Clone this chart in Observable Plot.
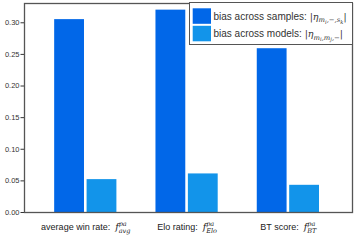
<!DOCTYPE html>
<html>
<head>
<meta charset="utf-8">
<script src="https://cdn.jsdelivr.net/npm/d3@7"></script>
<script src="https://cdn.jsdelivr.net/npm/@observablehq/plot@0.6"></script>
<style>
  body { margin: 0; background: #fff; }
  #wrap { position: relative; width: 358px; height: 247px; }
</style>
</head>
<body>
<div id="wrap"></div>
<script>
const groups = ["average win rate", "Elo rating", "BT score"];
const groupSub = ["avg", "Elo", "BT"];
const seriesNames = ["bias across samples", "bias across models"];
const samplesBias = [0.305, 0.320, 0.259];
const modelsBias = [0.052, 0.061, 0.043];
const colors = ["#0167e8", "#1294ea"];
const yTicks = [0, 0.05, 0.10, 0.15, 0.20, 0.25, 0.30];

const offsets = [-0.16, 0.16];
const halfW = 0.16;
const rows = [];
groups.forEach((g, i) => {
  [samplesBias, modelsBias].forEach((vals, s) => {
    rows.push({group: g, gi: i, series: seriesNames[s], value: vals[i], x1: i + offsets[s] - halfW, x2: i + offsets[s] + halfW});
  });
});

const chart = Plot.plot({
  width: 358,
  height: 247,
  marginLeft: 24,
  marginRight: 6,
  marginTop: 3,
  marginBottom: 35,
  style: {fontFamily: "Liberation Sans, Arial, sans-serif", fontSize: "7.5px", color: "#333", background: "#fff"},
  x: {domain: [-0.605, 2.633], ticks: [0, 1, 2], tickSize: 0, tickPadding: 11, tickFormat: i => groups[i] + ":", label: null},
  y: {domain: [0, 0.3305], ticks: yTicks, tickFormat: d3.format(".2f"), tickSize: 3.5, tickPadding: 1.5, label: null},
  color: {domain: seriesNames, range: colors},
  marks: [
    Plot.rectY(rows, {x1: "x1", x2: "x2", y1: 0, y2: "value", fill: "series", insetLeft: 1.3, insetRight: 1.3}),
    Plot.frame({stroke: "#555", strokeWidth: 1.3})
  ]
});
chart.style.overflow = "visible";
document.getElementById("wrap").appendChild(chart);

const ns = "http://www.w3.org/2000/svg";
function tspan(parent, text, attrs) {
  const t = document.createElementNS(ns, "tspan");
  t.textContent = text;
  for (const k in attrs) t.setAttribute(k, attrs[k]);
  parent.appendChild(t);
  return t;
}
const serif = {"font-family": "DejaVu Serif, serif", "font-style": "italic"};

// Math notation in x tick labels
const xTickTexts = chart.querySelectorAll('[aria-label="x-axis tick label"] text');
xTickTexts.forEach((t, i) => {
  t.textContent = "";
  t.setAttribute("font-size", "9");
  t.setAttribute("fill", "#222");
  tspan(t, groups[i] + ":  ", {});
  tspan(t, "f", {...serif, "font-size": "9.5"});
  tspan(t, "pa", {...serif, "font-size": "6.5", dy: "-4"});
  tspan(t, groupSub[i], {...serif, "font-size": "6.5", dy: "7", dx: "-8"});
});

// Legend inside the SVG
const lg = document.createElementNS(ns, "g");
lg.setAttribute("font-family", "Liberation Sans, Arial, sans-serif");
lg.setAttribute("font-size", "10");
lg.setAttribute("fill", "#333");
lg.setAttribute("text-anchor", "start");
const box = document.createElementNS(ns, "rect");
Object.entries({x: 189.5, y: 2.5, width: 163, height: 42, fill: "#fff", stroke: "#555", "stroke-width": 1}).forEach(([k, v]) => box.setAttribute(k, v));
lg.appendChild(box);
const subs = [
  [["m", 0], ["i", 1], [",−,", 0], ["s", 0], ["k", 1]],
  [["m", 0], ["i", 1], [",", 0], ["m", 0], ["j", 1], [",−", 0]]
];
seriesNames.forEach((s, k) => {
  const y0 = k === 0 ? 8.3 : 25.8;
  const sw = document.createElementNS(ns, "rect");
  Object.entries({x: 192.7, y: y0, width: 18.3, height: 15.5, fill: colors[k]}).forEach(([a, v]) => sw.setAttribute(a, v));
  lg.appendChild(sw);
  const t = document.createElementNS(ns, "text");
  t.setAttribute("x", 213.5);
  t.setAttribute("y", y0 + 11.3);
  t.setAttribute("text-anchor", "start");
  tspan(t, s + ": ", {});
  tspan(t, "|", {...serif, "font-style": "normal", "font-size": "9.5"});
  tspan(t, "η", {...serif, "font-size": "9.5"});
  let level = 0;
  subs[k].forEach(([str, lv], j) => {
    let dy = 0;
    if (j === 0) dy = 2.5;
    if (lv !== level) dy += lv > level ? 1.5 : -1.5;
    level = lv;
    tspan(t, str, {...serif, "font-size": lv ? "5.2" : "6.8", dy: dy});
  });
  tspan(t, "|", {...serif, "font-style": "normal", "font-size": "9.5", dy: -(2.5 + (level ? 1.5 : 0))});
  lg.appendChild(t);
});
chart.appendChild(lg);
</script>
</body>
</html>
